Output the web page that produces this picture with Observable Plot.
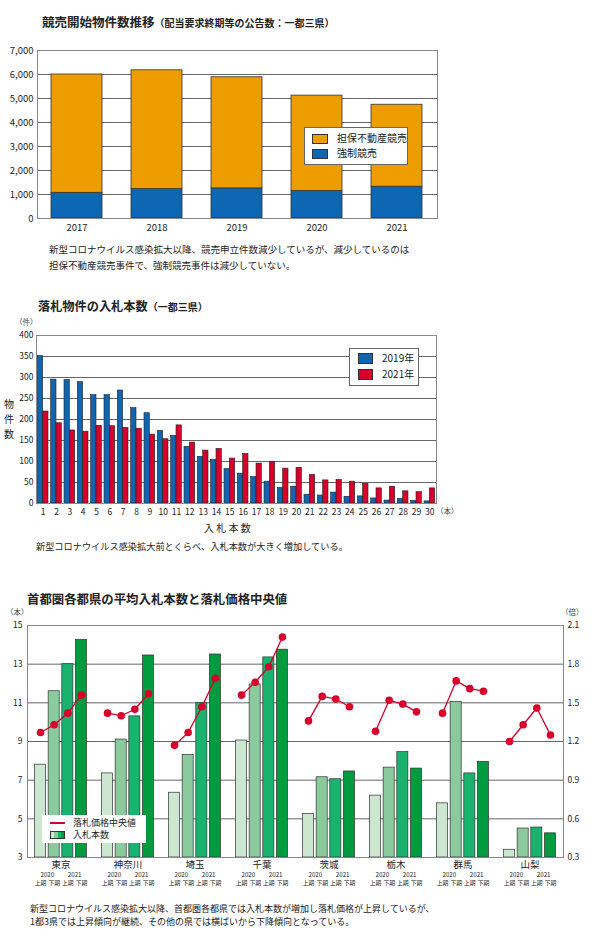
<!DOCTYPE html>
<html>
<head>
<meta charset="utf-8">
<script src="https://cdn.jsdelivr.net/npm/d3@7"></script>
<script src="https://cdn.jsdelivr.net/npm/@observablehq/plot@0.6"></script>
<style>
  body { margin: 0; background: #fff; font-family: "Noto Sans CJK JP", sans-serif; color: #222; }
  #page { position: relative; width: 595px; height: 940px; overflow: hidden; }
  .t { position: absolute; white-space: nowrap; line-height: 1; }
  .box { position: absolute; background: #fff; border: 1px solid #666; box-sizing: border-box; }
  .sw { position: absolute; border: 1px solid #333; box-sizing: border-box; }
  .chart { position: absolute; left: 0; }
</style>
</head>
<body>
<div id="page"></div>
<script>
// --- chart 1: 競売開始物件数推移
const years = ["2017", "2018", "2019", "2020", "2021"];
const kyoseiCounts = [1070, 1225, 1255, 1145, 1325];   // 強制競売
const tanpoCounts = [4930, 4950, 4630, 3975, 3415];    // 担保不動産競売
const ticks1 = [0, 1000, 2000, 3000, 4000, 5000, 6000, 7000];

// --- chart 2: 落札物件の入札本数
const bidNums = [1,2,3,4,5,6,7,8,9,10,11,12,13,14,15,16,17,18,19,20,21,22,23,24,25,26,27,28,29,30];
const count2019 = [351,295,294,289,258,258,269,227,215,173,161,135,111,104,82,71,63,52,37,40,21,19,26,16,17,12,7,11,6,5];
const count2021 = [219,191,174,171,185,184,180,178,164,153,186,145,126,130,107,118,95,99,83,85,68,55,56,52,47,36,40,29,27,36];
const ticks2 = [0, 50, 100, 150, 200, 250, 300, 350, 400];

// --- chart 3: 首都圏各都県の平均入札本数と落札価格中央値
const prefs = ["東京", "神奈川", "埼玉", "千葉", "茨城", "栃木", "群馬", "山梨"];
const periods = ["2020上期", "2020下期", "2021上期", "2021下期"];
const bids2020H1 = [7.8, 7.35, 6.35, 9.05, 5.25, 6.2, 5.8, 3.4];
const bids2020H2 = [11.6, 9.1, 8.3, 11.95, 7.15, 7.65, 11.05, 4.5];
const bids2021H1 = [13.0, 10.3, 11.0, 13.35, 7.05, 8.45, 7.35, 4.55];
const bids2021H2 = [14.25, 13.45, 13.5, 13.75, 7.45, 7.6, 7.95, 4.25];
const price2020H1 = [1.27, 1.42, 1.17, 1.56, 1.36, 1.28, 1.42, 1.20];
const price2020H2 = [1.33, 1.40, 1.27, 1.66, 1.55, 1.52, 1.67, 1.33];
const price2021H1 = [1.42, 1.45, 1.47, 1.78, 1.53, 1.49, 1.61, 1.46];
const price2021H2 = [1.56, 1.57, 1.69, 2.01, 1.47, 1.43, 1.59, 1.25];
const ticks3 = [3, 5, 7, 9, 11, 13, 15];
const ticks3Right = [0.3, 0.6, 0.9, 1.2, 1.5, 1.8, 2.1];

const orange = "#ED9D00", blue1 = "#0E67B2";
const blue2 = "#1165B0", red2 = "#D6002A";
const greens = ["#CBE7CF", "#8ACA9C", "#19B26F", "#009B3E"];
const lineRed = "#D6002A";

const page = document.getElementById("page");
function text(str, x, y, size, opts = {}) {
  const d = document.createElement("div");
  d.className = "t";
  d.innerHTML = str;
  d.style.left = x + "px";
  d.style.top = (y - size / 2 - 1) + "px";
  d.style.fontSize = size + "px";
  if (opts.bold) d.style.fontWeight = "bold";
  if (opts.color) d.style.color = opts.color;
  page.append(d);
  return d;
}
function place(el, top) {
  const wrap = document.createElement("div");
  wrap.className = "chart";
  wrap.style.top = top + "px";
  wrap.append(el);
  page.append(wrap);
}
const baseStyle = {fontFamily: "Noto Sans CJK JP, sans-serif", color: "#222", background: "transparent", overflow: "visible"};

// ---------- chart 1 ----------
text('競売開始物件数推移<span style="font-size:10px">（配当要求終期等の公告数：一都三県）</span>', 42, 23, 12.5, {bold: true});

const rows1 = [];
years.forEach((y, i) => {
  rows1.push({year: y, type: "強制競売", v: kyoseiCounts[i]});
  rows1.push({year: y, type: "担保不動産競売", v: tanpoCounts[i]});
});

place(Plot.plot({
  width: 595, height: 205,
  marginTop: 10, marginBottom: 27, marginLeft: 37, marginRight: 158,
  style: {...baseStyle, fontSize: "9px"},
  x: {domain: years, paddingInner: 0.36, paddingOuter: 0.18, label: null},
  y: {domain: [0, 7000], label: null},
  color: {domain: ["担保不動産競売", "強制競売"], range: [orange, blue1]},
  marks: [
    Plot.ruleY(ticks1, {stroke: "#666", strokeWidth: 1}),
    Plot.barY(rows1, {x: "year", y: "v", fill: "type", stroke: "#333", strokeWidth: 0.8}),
    Plot.frame({stroke: "#888"}),
    Plot.axisY({ticks: ticks1, tickSize: 0, tickPadding: 4, fontSize: 9.5, tickFormat: d3.format(","), label: null}),
    Plot.axisX({tickSize: 0, tickPadding: 6, fontSize: 9.5, label: null})
  ]
}), 40);

const lg1 = document.createElement("div");
lg1.className = "box";
Object.assign(lg1.style, {left: "304px", top: "127px", width: "104px", height: "38px"});
page.append(lg1);
const s1a = document.createElement("div"); s1a.className = "sw";
Object.assign(s1a.style, {left: "312px", top: "134px", width: "16px", height: "10px", background: orange});
const s1b = document.createElement("div"); s1b.className = "sw";
Object.assign(s1b.style, {left: "312px", top: "149px", width: "16px", height: "10px", background: blue1});
page.append(s1a, s1b);
text("担保不動産競売", 337, 139, 10);
text("強制競売", 337, 154, 10);

text("新型コロナウイルス感染拡大以降、競売申立件数減少しているが、減少しているのは", 49, 251, 9.5);
text("担保不動産競売事件で、強制競売事件は減少していない。", 49, 267, 9.5);

// ---------- chart 2 ----------
text('落札物件の入札本数<span style="font-size:10px">（一都三県）</span>', 38, 307, 12.2, {bold: true});
text("（件）", 15, 323, 7.5, {color: "#444"});
text("物", 4, 405, 10); text("件", 4, 420, 10); text("数", 4, 435, 10);

const rows2019 = bidNums.map((n, i) => ({n, v: count2019[i]}));
const rows2021 = bidNums.map((n, i) => ({n, v: count2021[i]}));
const w2 = 595 - 36 - 159;
const half2 = (w2 / (bidNums.length - 0.2 + 0.2)) * 0.8 / 2;

place(Plot.plot({
  width: 595, height: 200,
  marginTop: 10, marginBottom: 22, marginLeft: 36, marginRight: 159,
  style: {...baseStyle, fontSize: "8.5px"},
  x: {domain: bidNums, paddingInner: 0.2, paddingOuter: 0.1, round: false, label: null},
  y: {domain: [0, 400], label: null},
  marks: [
    Plot.ruleY(ticks2, {stroke: "#666", strokeWidth: 1}),
    Plot.barY(rows2019, {x: "n", y: "v", fill: blue2, stroke: "#222", strokeWidth: 0.6, insetRight: half2}),
    Plot.barY(rows2021, {x: "n", y: "v", fill: red2, stroke: "#222", strokeWidth: 0.6, insetLeft: half2}),
    Plot.frame({stroke: "#888"}),
    Plot.axisY({ticks: ticks2, tickSize: 0, tickPadding: 3, fontSize: 8.5, label: null}),
    Plot.axisX({tickSize: 0, tickPadding: 5, fontSize: 8.5, label: null})
  ]
}), 325);

text("（本）", 436, 512, 7.5, {color: "#444"});
text("入&nbsp;札&nbsp;本&nbsp;数", 204, 529, 10);

const lg2 = document.createElement("div");
lg2.className = "box";
Object.assign(lg2.style, {left: "349px", top: "348px", width: "70px", height: "38px"});
page.append(lg2);
const s2a = document.createElement("div"); s2a.className = "sw";
Object.assign(s2a.style, {left: "358px", top: "353px", width: "15px", height: "11px", background: blue2});
const s2b = document.createElement("div"); s2b.className = "sw";
Object.assign(s2b.style, {left: "358px", top: "369px", width: "15px", height: "11px", background: red2});
page.append(s2a, s2b);
text("2019年", 382, 359, 10);
text("2021年", 382, 375, 10);

text("新型コロナウイルス感染拡大前とくらべ、入札本数が大きく増加している。", 36, 548, 9.2);

// ---------- chart 3 ----------
text("首都圏各都県の平均入札本数と落札価格中央値", 27, 600, 12.4, {bold: true});
text("（本）", 6, 613, 7.5, {color: "#444"});
text("（倍）", 561, 613, 7.5, {color: "#444"});

const bidsBy = [bids2020H1, bids2020H2, bids2021H1, bids2021H2];
const priceBy = [price2020H1, price2020H2, price2021H1, price2021H2];
const rows3 = [];
prefs.forEach((p, i) => periods.forEach((per, j) => {
  rows3.push({pref: p, period: per, bids: bidsBy[j][i], price: priceBy[j][i]});
}));
// price (right axis 0.3–2.1) mapped onto the left axis (3–15)
const toLeft = v => ticks3[0] + (v - ticks3Right[0]) / (ticks3Right[6] - ticks3Right[0]) * (ticks3[6] - ticks3[0]);
const toRight = v => ticks3Right[0] + (v - ticks3[0]) / (ticks3[6] - ticks3[0]) * (ticks3Right[6] - ticks3Right[0]);

const w3 = (595 - 26 - 32) / prefs.length;
const step3 = w3 / (4 - 0.19 + 2 * 0.55);

place(Plot.plot({
  width: 595, height: 280,
  marginTop: 10, marginBottom: 38, marginLeft: 26, marginRight: 32,
  style: {...baseStyle, fontSize: "8.5px"},
  fx: {domain: prefs, padding: 0, label: null},
  x: {domain: periods, paddingInner: 0.19, paddingOuter: 0.55, round: false, label: null},
  y: {domain: [3, 15], label: null},
  color: {domain: periods, range: greens},
  marks: [
    Plot.ruleY(ticks3, {stroke: "#666", strokeWidth: 1}),
    Plot.barY(rows3, {fx: "pref", x: "period", y1: ticks3[0], y2: "bids", fill: "period", stroke: "#333", strokeWidth: 0.7}),
    Plot.lineY(rows3, {fx: "pref", x: "period", y: d => toLeft(d.price), stroke: lineRed, strokeWidth: 1.3}),
    Plot.dot(rows3, {fx: "pref", x: "period", y: d => toLeft(d.price), fill: lineRed, r: 3.8}),
    Plot.frame({facet: "super", stroke: "#888"}),
    Plot.axisY({anchor: "left", ticks: ticks3, tickSize: 0, tickPadding: 5, fontSize: 8.5, label: null}),
    Plot.axisY({anchor: "right", ticks: ticks3, tickSize: 0, tickPadding: 4, fontSize: 8.5, label: null,
      tickFormat: d => d3.format(".1f")(toRight(d))}),
    Plot.axisFx({anchor: "bottom", tickSize: 0, tickPadding: 4, fontSize: 9.5, label: null}),
    Plot.axisX({anchor: "bottom", tickSize: 0, tickPadding: 15, fontSize: 6.2, dx: step3 / 2, label: null,
      tickFormat: d => d.endsWith("上期") ? d.slice(0, 4) : ""}),
    Plot.axisX({anchor: "bottom", tickSize: 0, tickPadding: 23, fontSize: 5.8, label: null,
      tickFormat: d => d.slice(4)})
  ]
}), 615);

const lg3 = document.createElement("div");
lg3.className = "box";
Object.assign(lg3.style, {left: "42px", top: "815px", width: "104px", height: "28px", border: "none"});
page.append(lg3);
const ln = document.createElement("div");
Object.assign(ln.style, {position: "absolute", left: "50px", top: "822px", width: "15px", height: "2px", background: lineRed});
page.append(ln);
greens.forEach((g, k) => {
  const s = document.createElement("div");
  Object.assign(s.style, {position: "absolute", left: (50 + k * 3.75) + "px", top: "831px", width: "3.75px", height: "8px", background: g, boxSizing: "border-box", borderTop: "1px solid #333", borderBottom: "1px solid #333", borderLeft: k === 0 ? "1px solid #333" : "none", borderRight: k === 3 ? "1px solid #333" : "none"});
  page.append(s);
});
text("落札価格中央値", 73, 823, 9);
text("入札本数", 73, 835, 9);

text("新型コロナウイルス感染拡大以降、首都圏各都県では入札本数が増加し落札価格が上昇しているが、", 30, 909, 9);
text("1都3県では上昇傾向が継続、その他の県では横ばいから下降傾向となっている。", 30, 922, 9);
</script>
</body>
</html>
